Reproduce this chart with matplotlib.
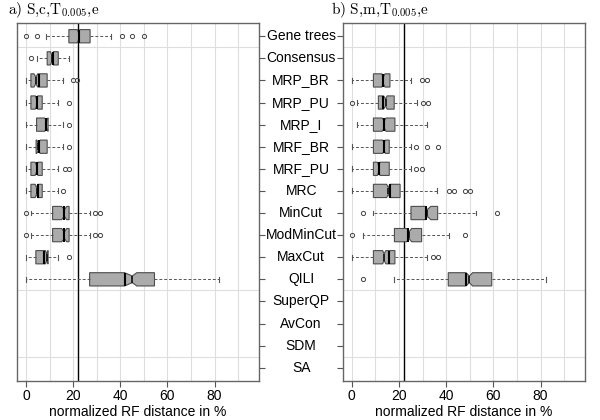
import matplotlib.pyplot as plt
from matplotlib import transforms

plt.rcParams['mathtext.fontset'] = 'cm'

methods = ["Gene trees", "Consensus", "MRP_BR", "MRP_PU", "MRP_I", "MRF_BR",
           "MRF_PU", "MRC", "MinCut", "ModMinCut", "MaxCut", "QILI",
           "SuperQP", "AvCon", "SDM", "SA"]
group_breaks = [1.5, 12.5, 15.5]
ref_line = 22

# panel a) S,c,T0.005,e
a_names = ["Gene trees", "Consensus", "MRP_BR", "MRP_PU", "MRP_I", "MRF_BR",
           "MRF_PU", "MRC", "MinCut", "ModMinCut", "MaxCut", "QILI"]
a_whislo = [8.5, 4.5, 0, 0, 0, 0, 0, 0, 2.1, 2.1, 0, 0]
a_q1 = [18.2, 9.0, 2.1, 2.1, 4.5, 4.3, 2.1, 2.1, 11.3, 11.3, 4.2, 27.0]
a_cilo = [21.8, 10.4, 3.4, 4.0, 8.0, 4.6, 3.9, 3.9, 15.1, 15.1, 8.3, 41.8]
a_med = [22.3, 10.9, 4.2, 4.5, 8.7, 5.3, 4.5, 4.5, 16.3, 16.3, 8.8, 45.1]
a_cihi = [22.8, 11.6, 5.0, 5.0, 9.3, 6.0, 5.1, 5.1, 17.3, 17.3, 9.3, 47.0]
a_mean = [22.3, 11.5, 5.5, 4.5, 8.3, 5.5, 4.8, 5.2, 16.3, 16.3, 7.8, 41.8]
a_q3 = [27.2, 13.7, 9.0, 6.9, 9.4, 9.0, 6.9, 6.9, 18.3, 18.3, 9.4, 54.5]
a_whishi = [36.2, 18.2, 15.8, 13.7, 15.8, 15.8, 13.7, 13.7, 27.0, 27.0, 13.7, 81.7]
a_fliers = [[0, 4.5, 40.6, 45, 50], [2.1], [20.0, 21.7], [18.2], [18.2], [18.2],
            [16.5, 18.3], [15.8], [0, 29.4, 31.6], [0, 29.4, 31.6], [18.2], []]

# panel b) S,m,T0.005,e
b_names = ["MRP_BR", "MRP_PU", "MRP_I", "MRF_BR", "MRF_PU", "MRC",
           "MinCut", "ModMinCut", "MaxCut", "QILI"]
b_whislo = [0, 2.4, 2.4, 0, 0, 0, 9.2, 4.6, 0, 18.1]
b_q1 = [9.2, 11.3, 9.2, 9.2, 9.2, 9.2, 25.1, 18.1, 9.2, 40.9]
b_cilo = [12.7, 13.5, 12.9, 13.2, 10.9, 14.8, 31.1, 23.3, 13.1, 48.4]
b_med = [13.4, 14.4, 13.8, 13.7, 11.4, 15.5, 32.0, 24.3, 13.7, 49.8]
b_cihi = [14.1, 15.0, 14.5, 14.2, 12.0, 16.2, 33.5, 25.4, 14.5, 51.2]
b_mean = [13.2, 13.4, 13.8, 13.7, 11.7, 16.2, 31.5, 24.0, 15.9, 48.4]
b_q3 = [16.2, 18.0, 18.3, 15.9, 15.9, 20.5, 36.4, 29.6, 18.3, 59.3]
b_whishi = [25.0, 27.5, 32.0, 25.0, 25.0, 36.3, 52.5, 41.0, 32.0, 82.2]
b_fliers = [[29.6, 32.0], [0, 30.4, 32.2], [], [27.2, 32.0, 36.4], [27.2, 29.6],
            [41.0, 43.4, 48.0, 50.1], [4.6, 61.7], [0, 48.0], [34.3, 36.7], [4.6]]

x_ticks = [0, 20, 40, 60, 80]
x_grid = [0, 10, 20, 30, 40, 50, 60, 70, 80, 90]


def make_stats(names, whislo, q1, cilo, med, cihi, mean, q3, whishi, fliers):
    out = []
    for row in zip(names, whislo, q1, cilo, med, cihi, mean, q3, whishi, fliers):
        out.append(dict(label=row[0], whislo=row[1], q1=row[2], cilo=row[3],
                        med=row[4], cihi=row[5], mean=row[6], q3=row[7],
                        whishi=row[8], fliers=row[9]))
    return out


fig = plt.figure(figsize=(6, 4.2), dpi=100)
ax_a = fig.add_axes([0.0283, 0.0929, 0.4033, 0.8524])
ax_b = fig.add_axes([0.5712, 0.0929, 0.4038, 0.8524])

panels = [
    (ax_a, make_stats(a_names, a_whislo, a_q1, a_cilo, a_med, a_cihi, a_mean,
                      a_q3, a_whishi, a_fliers), r"$\mathrm{a)\ S{,}c{,}T_{0.005}{,}e}$"),
    (ax_b, make_stats(b_names, b_whislo, b_q1, b_cilo, b_med, b_cihi, b_mean,
                      b_q3, b_whishi, b_fliers), r"$\mathrm{b)\ S{,}m{,}T_{0.005}{,}e}$"),
]

edge = "#4d4d4d"
for ax, stats, title in panels:
    for x in x_grid:
        ax.axvline(x, color="#dedede", lw=0.8, zorder=0)
    for y in group_breaks:
        ax.axhline(y, color="#dedede", lw=0.8, zorder=0)
    ax.axvline(ref_line, color="black", lw=1.0, zorder=1)

    pos = [methods.index(s["label"]) + 1 for s in stats]
    ax.bxp(stats, positions=pos, orientation="horizontal", widths=0.6,
           capwidths=0.22, shownotches=True, showmeans=True, meanline=True,
           patch_artist=True, manage_ticks=False, zorder=2,
           boxprops=dict(facecolor="#ababab", edgecolor=edge, lw=0.8),
           medianprops=dict(color="black", lw=1.1),
           meanprops=dict(color="black", lw=1.5, linestyle="-"),
           whiskerprops=dict(color="#555555", lw=0.7, linestyle=(0, (3, 2))),
           capprops=dict(color="#555555", lw=0.8),
           flierprops=dict(marker="o", markerfacecolor="none",
                           markeredgecolor="#444444", markersize=3,
                           markeredgewidth=0.7))

    ax.set_xlim(-3.8, 98.8)
    ax.set_ylim(16.6, 0.4)
    ax.set_xticks(x_ticks)
    ax.set_yticks(range(1, len(methods) + 1))
    ax.tick_params(axis="x", labelsize=10, length=4, color="#555555",
                   labelcolor="black", pad=2)
    ax.tick_params(axis="y", labelleft=False, labelright=False, length=4,
                   color="#555555")
    for s in ax.spines.values():
        s.set_color("#666666")
        s.set_linewidth(1.0)
    for lab in ax.get_xticklabels():
        lab.set_family("Liberation Sans")
    ax.set_xlabel("normalized RF distance in %", family="Liberation Sans",
                  fontsize=10, labelpad=1)

ax_a.yaxis.tick_right()
ax_b.yaxis.tick_left()
ax_a.tick_params(axis="y", labelright=False)
ax_b.tick_params(axis="y", labelleft=False)

fig.text(8 / 600, 1 - 14 / 420, panels[0][2], fontsize=11, va="baseline")
fig.text(331 / 600, 1 - 14 / 420, panels[1][2], fontsize=11, va="baseline")

tr = transforms.blended_transform_factory(fig.transFigure, ax_a.transData)
for i, name in enumerate(methods):
    fig.text(0.502, i + 1, name, transform=tr, ha="center", va="center",
             family="Liberation Sans", fontsize=10)

fig.savefig("out.png", dpi=100)
